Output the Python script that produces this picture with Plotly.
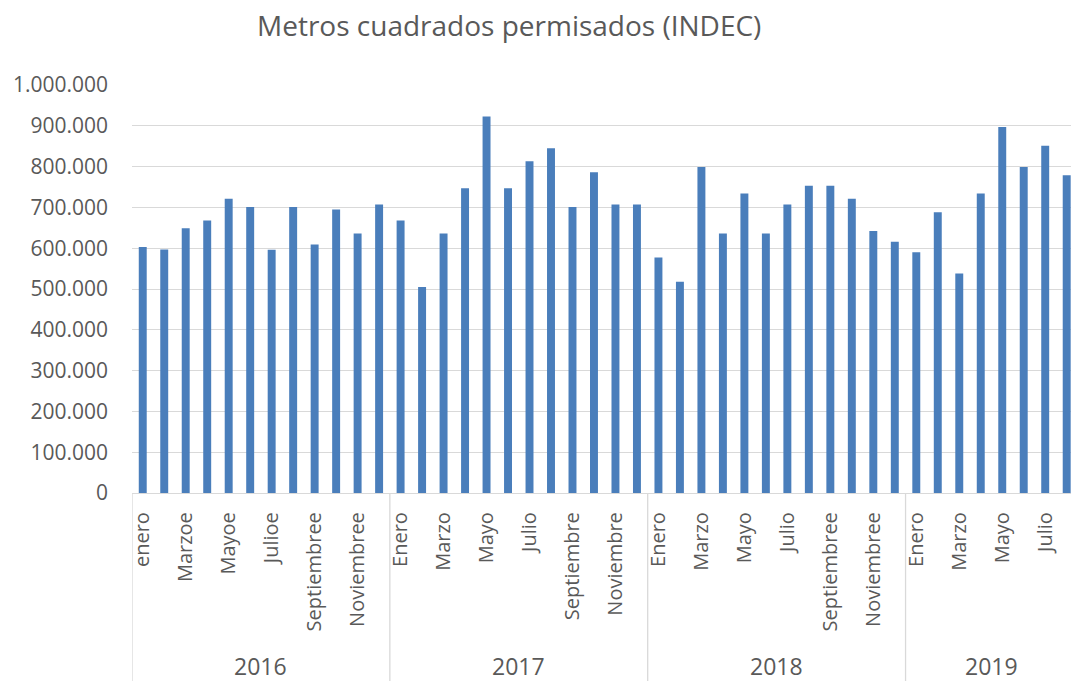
import plotly.graph_objects as go

# ---- data ----
years = ["2016", "2017", "2018", "2019"]

values_2016 = [603000, 597000, 649000, 668000, 721000, 701000, 596000, 701000, 609000, 695000, 636000, 707000]
values_2017 = [668000, 505000, 636000, 747000, 923000, 747000, 813000, 845000, 701000, 786000, 707000, 707000]
values_2018 = [577000, 518000, 799000, 636000, 734000, 636000, 707000, 753000, 753000, 721000, 642000, 616000]
values_2019 = [590000, 688000, 538000, 734000, 897000, 799000, 851000, 779000]

labels_2016 = ["enero", "Marzoe", "Mayoe", "Julioe", "Septiembree", "Noviembree"]
labels_2017 = ["Enero", "Marzo", "Mayo", "Julio", "Septiembre", "Noviembre"]
labels_2018 = ["Enero", "Marzo", "Mayo", "Julio", "Septiembree", "Noviembree"]
labels_2019 = ["Enero", "Marzo", "Mayo", "Julio"]

title_text = "Metros cuadrados permisados (INDEC)"

series = [values_2016, values_2017, values_2018, values_2019]
label_sets = [labels_2016, labels_2017, labels_2018, labels_2019]

# ---- build positions ----
xs, ys, tickvals, ticktext = [], [], [], []
group_bounds = []
idx = 0
for vals, labs in zip(series, label_sets):
    start = idx
    for i, v in enumerate(vals):
        xs.append(idx)
        ys.append(v)
        if i % 2 == 0:
            tickvals.append(idx)
            ticktext.append(labs[i // 2])
        idx += 1
    group_bounds.append((start, idx - 1))

GRAY = "#595959"
LINE = "#d9d9d9"
FONT = "Open Sans"

fig = go.Figure(go.Bar(x=xs, y=ys, marker=dict(color="#4a7ebb", line=dict(width=0)),
                       hoverinfo="y"))

shapes = []
annotations = []
for (s, e), yr in zip(group_bounds, years):
    shapes.append(dict(type="line", xref="x", yref="paper", x0=s - 0.5, x1=s - 0.5,
                       y0=0, y1=-0.47, line=dict(color=LINE, width=1.3)))
    annotations.append(dict(text=yr, xref="x", yref="paper", x=(s + e) / 2, y=-0.425,
                            showarrow=False, yanchor="middle", xanchor="center",
                            font=dict(family=FONT, size=23, color=GRAY)))

annotations.append(dict(text=title_text, xref="paper", yref="paper", x=0.402, y=1.0 + 60 / 408,
                        showarrow=False, xanchor="center", yanchor="middle",
                        font=dict(family=FONT, size=28, color=GRAY)))

fig.update_layout(
    width=1071, height=681,
    margin=dict(l=131.5, r=0, t=85, b=188),
    paper_bgcolor="white", plot_bgcolor="white",
    separators=",.",
    bargap=0.63,
    showlegend=False,
    shapes=shapes,
    annotations=annotations,
    font=dict(family=FONT, color=GRAY),
    xaxis=dict(range=[-0.5, 43.2], tickmode="array", tickvals=tickvals, ticktext=ticktext,
               tickangle=-90, tickfont=dict(family=FONT, size=20, color=GRAY),
               showgrid=False, zeroline=False, showline=True, linecolor=LINE, linewidth=1.3,
               ticks="", ticklabelstandoff=10),
    yaxis=dict(range=[0, 1000000], dtick=100000, tick0=0, tickformat=",d",
               tickfont=dict(family=FONT, size=21, color=GRAY),
               showgrid=True, gridcolor=LINE, gridwidth=1.3, zeroline=False, showline=False,
               ticks="", ticklabelstandoff=23),
)

fig.write_html("out.html",
               config={"displayModeBar": False},
               post_script="document.body.style.margin='0';document.body.style.overflow='hidden';")
